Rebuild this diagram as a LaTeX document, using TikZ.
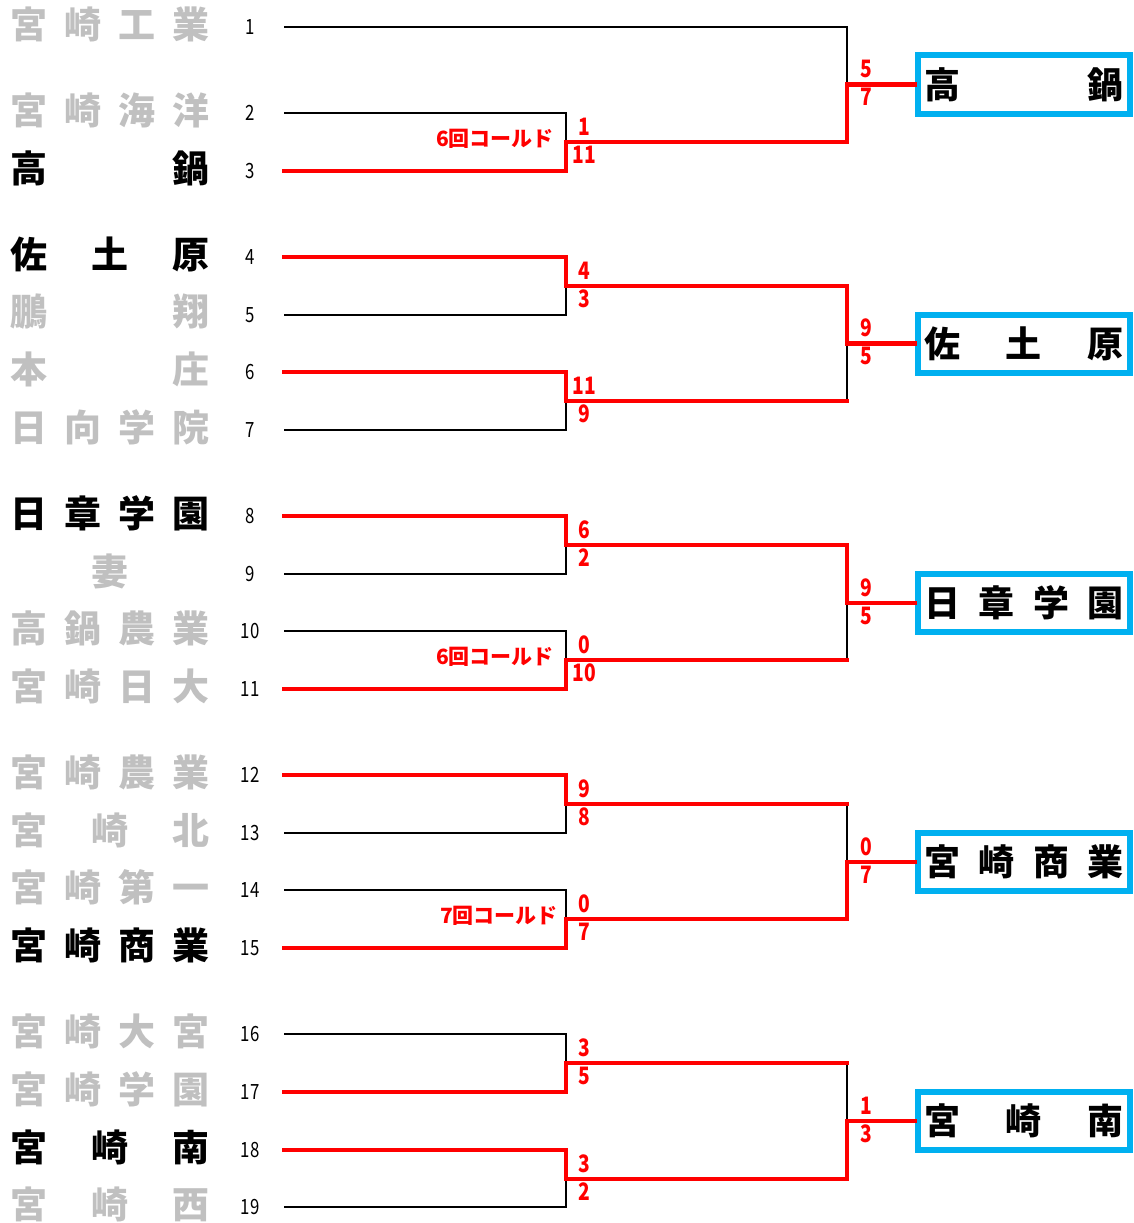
\documentclass[tikz,border=0pt]{standalone}
\usepackage{fontspec}
\newfontfamily\jp{Noto Sans CJK JP}
\newfontfamily\num{Noto Sans CJK JP}[FakeStretch=0.8]
\definecolor{loser}{RGB}{192,192,192}
\definecolor{boxblue}{RGB}{0,176,240}
\definecolor{winred}{RGB}{255,0,0}
\tikzset{
  lose/.style={draw=black, line width=1.6pt},
  win/.style={draw=winred, line width=4.5pt, line cap=rect, line join=miter},
  namebox/.style={anchor=west, inner sep=0pt, yshift=3pt, font=\jp\bfseries\fontsize{37}{37}\selectfont},
  gray/.style={text=loser},
  champ/.style={draw=boxblue, line width=6pt, fill=white, minimum width=212pt, minimum height=58pt, inner sep=0pt, font=\jp\bfseries\fontsize{36}{36}\selectfont},
  seed/.style={inner sep=0pt, font=\num\fontsize{21}{21}\selectfont},
  score/.style={inner sep=0pt, anchor=base, text=winred, font=\num\bfseries\fontsize{24}{24}\selectfont},
  cold/.style={inner sep=0pt, anchor=east, text=winred, font=\jp\bfseries\fontsize{21}{21}\selectfont},
}
\newcommand{\spread}[1]{\makebox[199pt][s]{#1}}
\begin{document}
\begin{tikzpicture}[x=1pt,y=-1pt]
\useasboundingbox (0,0) rectangle (1134,1223);
% team line starts
\foreach \i/\y in {1/27,2/113,3/171,4/257,5/315,6/372,7/430,8/516,9/574,10/631,11/689,12/775,13/833,14/890,15/948,16/1034,17/1092,18/1150,19/1207}{
  \coordinate (t\i) at (284,\y);
  \node[seed] (n\i) at (250,\y) {\i};
}
% first round junctions
\coordinate (r1) at (566,142);
\coordinate (r2a) at (566,286);
\coordinate (r2b) at (566,401);
\coordinate (r3a) at (566,545);
\coordinate (r3b) at (566,660);
\coordinate (r4a) at (566,804);
\coordinate (r4b) at (566,919);
\coordinate (r5a) at (566,1063);
\coordinate (r5b) at (566,1179);
% second round junctions
\coordinate (q1) at (847,84.5);
\coordinate (q2) at (847,343.5);
\coordinate (q3) at (847,603);
\coordinate (q4) at (847,862);
\coordinate (q5) at (847,1121);

% team names
\node[namebox,gray] (a1) at (10,27) {\spread{宮\hfill 崎\hfill 工\hfill 業}};
\node[namebox,gray] (a2) at (10,113) {\spread{宮\hfill 崎\hfill 海\hfill 洋}};
\node[namebox] (a3) at (10,171) {\spread{高\hfill 鍋}};
\node[namebox] (a4) at (10,257) {\spread{佐\hfill 土\hfill 原}};
\node[namebox,gray] (a5) at (10,315) {\spread{鵬\hfill 翔}};
\node[namebox,gray] (a6) at (10,372) {\spread{本\hfill 庄}};
\node[namebox,gray] (a7) at (10,430) {\spread{日\hfill 向\hfill 学\hfill 院}};
\node[namebox] (a8) at (10,516) {\spread{日\hfill 章\hfill 学\hfill 園}};
\node[namebox,gray] (a9) at (10,574) {\spread{\hfill 妻\hfill}};
\node[namebox,gray] (a10) at (10,631) {\spread{高\hfill 鍋\hfill 農\hfill 業}};
\node[namebox,gray] (a11) at (10,689) {\spread{宮\hfill 崎\hfill 日\hfill 大}};
\node[namebox,gray] (a12) at (10,775) {\spread{宮\hfill 崎\hfill 農\hfill 業}};
\node[namebox,gray] (a13) at (10,833) {\spread{宮\hfill 崎\hfill 北}};
\node[namebox,gray] (a14) at (10,890) {\spread{宮\hfill 崎\hfill 第\hfill 一}};
\node[namebox] (a15) at (10,948) {\spread{宮\hfill 崎\hfill 商\hfill 業}};
\node[namebox,gray] (a16) at (10,1034) {\spread{宮\hfill 崎\hfill 大\hfill 宮}};
\node[namebox,gray] (a17) at (10,1092) {\spread{宮\hfill 崎\hfill 学\hfill 園}};
\node[namebox] (a18) at (10,1150) {\spread{宮\hfill 崎\hfill 南}};
\node[namebox,gray] (a19) at (10,1207) {\spread{宮\hfill 崎\hfill 西}};

% champion boxes
\node[champ] (b1) at (1024,84.5) {\spread{高\hfill 鍋}};
\node[champ] (b2) at (1024,343.5) {\spread{佐\hfill 土\hfill 原}};
\node[champ] (b3) at (1024,603) {\spread{日\hfill 章\hfill 学\hfill 園}};
\node[champ] (b4) at (1024,862) {\spread{宮\hfill 崎\hfill 商\hfill 業}};
\node[champ] (b5) at (1024,1121) {\spread{宮\hfill 崎\hfill 南}};

% losing lines (black)
\draw[lose] (t1) -| (q1);
\draw[lose] (t2) -| (r1);
\draw[lose] (t5) -| (r2a);
\draw[lose] (t7) -| (r2b);
\draw[lose] (r2b) -| (q2);
\draw[lose] (t9) -| (r3a);
\draw[lose] (t10) -| (r3b);
\draw[lose] (r3b) -| (q3);
\draw[lose] (t13) -| (r4a);
\draw[lose] (t14) -| (r4b);
\draw[lose] (r4a) -| (q4);
\draw[lose] (t16) -| (r5a);
\draw[lose] (t19) -| (r5b);
\draw[lose] (r5a) -| (q5);

% winning lines (red)
\draw[win] (t3) -| (r1) -| (q1) -- (b1.west);
\draw[win] (t4) -| (r2a) -| (q2) -- (b2.west);
\draw[win] (t6) -| (r2b) -- (r2b -| q2);
\draw[win] (t8) -| (r3a) -| (q3) -- (b3.west);
\draw[win] (t11) -| (r3b) -- (r3b -| q3);
\draw[win] (t12) -| (r4a) -- (r4a -| q4);
\draw[win] (t15) -| (r4b) -| (q4) -- (b4.west);
\draw[win] (t17) -| (r5a) -- (r5a -| q5);
\draw[win] (t18) -| (r5b) -| (q5) -- (b5.west);

% scores
\foreach \nm/\x/\m/\u/\l in {s1/584/142/1/11, s2a/584/286/4/3, s2b/584/401/11/9, s3a/584/545/6/2, s3b/584/660/0/10, s4a/584/804/9/8, s4b/584/919/0/7, s5a/584/1063/3/5, s5b/584/1179/3/2,
  f1/866/84.5/5/7, f2/866/343.5/9/5, f3/866/603/9/5, f4/866/862/0/7, f5/866/1121/1/3}{
  \node[score] (\nm u) at (\x,\m-7) {\u};
  \node[score] (\nm l) at (\x,\m+21) {\l};
}
\node[cold] (c1) at (554,139) {6回コールド};
\node[cold] (c2) at (554,657) {6回コールド};
\node[cold] (c3) at (558,916) {7回コールド};
\end{tikzpicture}
\end{document}
